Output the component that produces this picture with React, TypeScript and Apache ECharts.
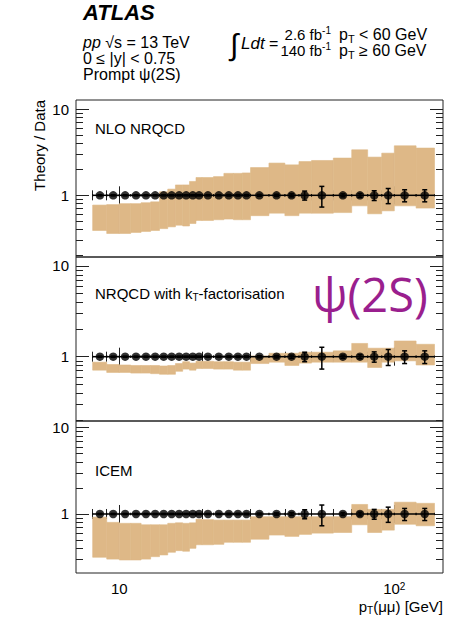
import React, { useEffect, useRef } from 'react';
import * as echarts from 'echarts';

// ---- data ----
const binEdges = [8, 9, 10, 11, 12, 13, 14, 15, 16, 17, 18, 19, 20, 22, 24, 26, 28, 30, 35, 40, 45, 50, 60, 70, 80, 90, 100, 120, 140];
const ptPoints = [8.5, 9.5, 10.5, 11.5, 12.5, 13.5, 14.5, 15.5, 16.5, 17.5, 18.5, 19.5, 21, 23, 25, 27, 29, 32.3, 37.3, 42.3, 47.2, 54.5, 65, 75, 84.5, 95, 109, 129];
const dataRatio = [1, 1, 1, 1, 1, 1, 1, 1, 1, 1, 1, 1, 1, 1, 1, 1, 1, 1, 1, 1, 1, 1, 1, 1, 1, 1, 1, 1];
const dataErr = [0.015, 0.015, 0.015, 0.015, 0.015, 0.015, 0.015, 0.015, 0.015, 0.015, 0.015, 0.015, 0.015, 0.015, 0.02, 0.02, 0.02, 0.025, 0.03, 0.04, 0.12, 0.27, 0.04, 0.05, 0.13, 0.2, 0.16, 0.16];

const nloUpper = [0.77, 0.78, 0.8, 0.8, 0.82, 0.84, 1.1, 1.18, 1.32, 1.32, 1.45, 1.61, 1.61, 1.65, 1.8, 1.8, 1.82, 2.1, 2.37, 2.26, 2.47, 2.54, 2.71, 3.38, 2.78, 3.09, 3.76, 3.54];
const nloLower = [0.39, 0.36, 0.36, 0.37, 0.38, 0.39, 0.41, 0.43, 0.45, 0.44, 0.47, 0.51, 0.51, 0.52, 0.53, 0.52, 0.52, 0.58, 0.62, 0.58, 0.62, 0.62, 0.63, 0.755, 0.61, 0.66, 0.755, 0.71];

const ktUpper = [0.87, 0.82, 0.81, 0.8, 0.8, 0.8, 0.79, 0.8, 0.84, 0.88, 0.85, 0.89, 0.89, 0.88, 0.88, 0.87, 0.87, 1.02, 1.09, 1.09, 1.12, 1.12, 1.16, 1.4, 1.24, 1.24, 1.49, 1.37];
const ktLower = [0.71, 0.67, 0.67, 0.66, 0.66, 0.65, 0.64, 0.64, 0.69, 0.73, 0.71, 0.74, 0.74, 0.73, 0.73, 0.71, 0.71, 0.84, 0.87, 0.8, 0.85, 0.87, 0.87, 0.87, 0.76, 0.87, 0.9, 0.81];

const icemUpper = [0.92, 0.8, 0.78, 0.78, 0.75, 0.75, 0.75, 0.78, 0.79, 0.78, 0.79, 0.87, 0.86, 0.85, 0.85, 0.85, 0.85, 0.93, 0.93, 0.93, 0.93, 0.93, 0.93, 1.29, 1.13, 1.13, 1.37, 1.33];
const icemLower = [0.315, 0.3, 0.293, 0.293, 0.3, 0.32, 0.335, 0.36, 0.376, 0.37, 0.4, 0.44, 0.44, 0.445, 0.47, 0.47, 0.47, 0.51, 0.57, 0.55, 0.58, 0.6, 0.61, 0.75, 0.61, 0.65, 0.76, 0.73];

const panelNames = ['NLO NRQCD', 'NRQCD with k{sub|T}-factorisation', 'ICEM'];
const yTickMajor = [1, 10];
const yTickMinor = [0.2, 0.3, 0.4, 0.5, 0.6, 0.7, 0.8, 0.9, 2, 3, 4, 5, 6, 7, 8, 9];
const xTickMajor = [10, 100];
const xTickMinor = [8, 9, 20, 30, 40, 50, 60, 70, 80, 90];

// ---- layout / style ----
const FONT = '"Liberation Sans", Arial, Helvetica, sans-serif';
const BAND = '#DEB887';
const FRAME = '#222';
const L = (v: number) => Math.log10(v);
const X_MIN = 0.8425;
const X_MAX = 2.177;
const GRID_LEFT = 76;
const GRID_RIGHT = 9;

const panels = [
  { top: 100, height: 157, yMin: -0.717, yMax: 1.108, upper: nloUpper, lower: nloLower, labelY: 128 },
  { top: 257, height: 164, yMin: -0.709, yMax: 1.099, upper: ktUpper, lower: ktLower, labelY: 293 },
  { top: 421, height: 152, yMin: -0.684, yMax: 1.078, upper: icemUpper, lower: icemLower, labelY: 470 },
];

const subStyle = (fs: number) => ({ fontFamily: FONT, fontSize: fs, lineHeight: 12, padding: [9, 0, 0, 0], fill: '#000' });
const supStyle = (fs: number) => ({ fontFamily: FONT, fontSize: fs, lineHeight: 12, padding: [0, 0, 9, 0], fill: '#000' });

function buildOption() {
  const grid: any[] = [];
  const xAxis: any[] = [];
  const yAxis: any[] = [];
  const series: any[] = [];
  const tickStyle = { color: FRAME, width: 1 };

  panels.forEach((p, i) => {
    grid.push({
      left: GRID_LEFT, right: GRID_RIGHT, top: p.top, height: p.height,
      show: true, borderColor: FRAME, borderWidth: 1, backgroundColor: 'transparent',
      containLabel: false, outerBoundsMode: 'none',
    });
    const isLast = i === panels.length - 1;
    const xBase = {
      gridIndex: i, type: 'value', min: X_MIN, max: X_MAX,
      axisLine: { show: false }, splitLine: { show: false },
    };
    xAxis.push({
      ...xBase, position: 'bottom',
      axisTick: { show: true, inside: true, length: 9, customValues: xTickMajor.map(L), lineStyle: tickStyle },
      axisLabel: isLast
        ? {
            show: true, customValues: xTickMajor.map(L), margin: 8,
            fontFamily: FONT, fontSize: 15, color: '#000',
            formatter: (v: number) => (v < 1.5 ? '10' : '10{sup|2}'),
            rich: { sup: { fontFamily: FONT, fontSize: 10, verticalAlign: 'top', lineHeight: 10 } },
          }
        : { show: false },
    });
    xAxis.push({
      ...xBase, position: 'bottom',
      axisTick: { show: true, inside: true, length: 5, customValues: xTickMinor.map(L), lineStyle: tickStyle },
      axisLabel: { show: false },
    });
    xAxis.push({
      ...xBase, position: 'top',
      axisTick: { show: true, inside: true, length: 9, customValues: xTickMajor.map(L), lineStyle: tickStyle },
      axisLabel: { show: false },
    });
    xAxis.push({
      ...xBase, position: 'top',
      axisTick: { show: true, inside: true, length: 5, customValues: xTickMinor.map(L), lineStyle: tickStyle },
      axisLabel: { show: false },
    });

    const yBase = {
      gridIndex: i, type: 'value', min: p.yMin, max: p.yMax,
      axisLine: { show: false }, splitLine: { show: false },
    };
    yAxis.push({
      ...yBase, position: 'left',
      axisTick: { show: true, inside: true, length: 13, customValues: yTickMajor.map(L), lineStyle: tickStyle },
      axisLabel: {
        show: true, customValues: yTickMajor.map(L), margin: 7,
        fontFamily: FONT, fontSize: 15, color: '#000',
        formatter: (v: number) => (Math.abs(v) < 1e-6 ? '1' : '10'),
      },
    });
    yAxis.push({
      ...yBase, position: 'left',
      axisTick: { show: true, inside: true, length: 7, customValues: yTickMinor.map(L), lineStyle: tickStyle },
      axisLabel: { show: false },
    });
    yAxis.push({
      ...yBase, position: 'right',
      axisTick: { show: true, inside: true, length: 13, customValues: yTickMajor.map(L), lineStyle: tickStyle },
      axisLabel: { show: false },
    });
    yAxis.push({
      ...yBase, position: 'right',
      axisTick: { show: true, inside: true, length: 7, customValues: yTickMinor.map(L), lineStyle: tickStyle },
      axisLabel: { show: false },
    });

    // theory band
    series.push({
      type: 'custom', coordinateSystem: 'cartesian2d',
      xAxisIndex: i * 4, yAxisIndex: i * 4, silent: true, z: 1,
      data: p.upper.map((u, b) => [L(binEdges[b]), L(binEdges[b + 1]), L(p.lower[b]), L(u)]),
      encode: { x: [0, 1], y: [2, 3] },
      renderItem: (_params: any, api: any) => {
        const a = api.coord([api.value(0), api.value(3)]);
        const b = api.coord([api.value(1), api.value(2)]);
        return {
          type: 'rect',
          shape: { x: a[0], y: a[1], width: b[0] - a[0], height: b[1] - a[1] },
          style: { fill: BAND, stroke: BAND, lineWidth: 0.6 },
        };
      },
    });

    // data error bars
    series.push({
      type: 'custom', coordinateSystem: 'cartesian2d',
      xAxisIndex: i * 4, yAxisIndex: i * 4, silent: true, z: 3,
      data: ptPoints.map((pt, b) => [
        L(binEdges[b]), L(binEdges[b + 1]), L(pt),
        L(dataRatio[b] - dataErr[b]), L(dataRatio[b] + dataErr[b]), L(dataRatio[b]),
      ]),
      encode: { x: [0, 1, 2], y: [3, 4, 5] },
      renderItem: (_params: any, api: any) => {
        const a = api.coord([api.value(0), api.value(5)]);
        const b = api.coord([api.value(1), api.value(5)]);
        const c = api.coord([api.value(2), api.value(3)]);
        const d = api.coord([api.value(2), api.value(4)]);
        const st = { stroke: '#000', lineWidth: 1.5 };
        const cap = 2.5;
        const endCap = 1.2;
        const thin = { stroke: '#000', lineWidth: 0.8 };
        return {
          type: 'group',
          children: [
            { type: 'line', shape: { x1: a[0], y1: a[1], x2: b[0], y2: b[1] }, style: st },
            { type: 'line', shape: { x1: a[0], y1: a[1] - endCap, x2: a[0], y2: a[1] + endCap }, style: thin },
            { type: 'line', shape: { x1: b[0], y1: b[1] - endCap, x2: b[0], y2: b[1] + endCap }, style: thin },
            { type: 'line', shape: { x1: c[0], y1: c[1], x2: d[0], y2: d[1] }, style: st },
            { type: 'line', shape: { x1: c[0] - cap, y1: c[1], x2: c[0] + cap, y2: c[1] }, style: st },
            { type: 'line', shape: { x1: d[0] - cap, y1: d[1], x2: d[0] + cap, y2: d[1] }, style: st },
          ],
        };
      },
    });

    // data points
    series.push({
      type: 'scatter', xAxisIndex: i * 4, yAxisIndex: i * 4, silent: true, z: 4,
      symbol: 'circle', symbolSize: 8.5,
      itemStyle: { color: '#000' },
      data: ptPoints.map((pt, b) => [L(pt), L(dataRatio[b])]),
    });
  });

  const txt = (x: number, y: number, text: string, extra: any = {}) => ({
    type: 'text', x, y, silent: true,
    style: {
      text, fill: '#000', fontFamily: FONT, fontSize: 16, lineHeight: 16,
      textAlign: 'left', align: 'left', textVerticalAlign: 'middle', verticalAlign: 'middle',
      ...extra,
    },
  });

  const HF = 16;
  const headRich = {
    i: { fontFamily: FONT, fontSize: HF, fontStyle: 'italic', lineHeight: 16, fill: '#000' },
    n: { fontFamily: FONT, fontSize: HF, lineHeight: 16, fill: '#000' },
  };
  const rightRich = {
    sub: subStyle(11),
    sup: supStyle(10),
    i: { fontFamily: FONT, fontSize: 17, fontStyle: 'italic', lineHeight: 16, fill: '#000' },
    n: { fontFamily: FONT, fontSize: 16, lineHeight: 16, fill: '#000' },
    f: { fontFamily: FONT, fontSize: 15, lineHeight: 16, fill: '#000' },
  };

  const graphic: any[] = [
    txt(83, 12, 'ATLAS', { fontSize: 22, fontWeight: 'bold', fontStyle: 'italic', lineHeight: 22 }),
    txt(83, 58, '{i|pp} {n|√s = 13 TeV}\n{n|0 ≤ |y| < 0.75}\n{n|Prompt ψ(2S)}', { rich: headRich, fontSize: HF }),
    txt(230, 44, '∫', { fontSize: 30, lineHeight: 26 }),
    txt(241, 43, '{i|Ldt} {n|=}', { rich: rightRich }),
    txt(331, 42.5, '{f|2.6 fb}{sup|-1}\n{f|140 fb}{sup|-1}', { rich: rightRich, fontSize: 15, textAlign: 'right', align: 'right' }),
    txt(339, 42.5, '{n|p}{sub|T}{n| < 60 GeV}\n{n|p}{sub|T}{n| ≥ 60 GeV}', { rich: rightRich }),
    txt(312, 294, 'ψ(2S)', { fontFamily: '"Open Sans", "Noto Sans", sans-serif', fontSize: 47, lineHeight: 50, fill: '#9A1F8E' }),
    {
      type: 'text', x: 39, y: 100, rotation: Math.PI / 2, silent: true,
      style: {
        text: 'Theory / Data', fill: '#000', fontFamily: FONT, fontSize: 15,
        textAlign: 'right', align: 'right', textVerticalAlign: 'middle', verticalAlign: 'middle',
      },
    },
    txt(443, 606, '{n|p}{sub|T}{n|(μμ) [GeV]}', {
      rich: {
        n: { fontFamily: FONT, fontSize: 15, lineHeight: 17, fill: '#000' },
        sub: subStyle(10),
      },
      textAlign: 'right', align: 'right',
    }),
  ];
  panels.forEach((p, i) => {
    graphic.push(txt(95, p.labelY, '{n|' + panelNames[i].replace('{sub|T}', '}{sub|T}{n|') + '}', {
      rich: {
        n: { fontFamily: FONT, fontSize: 15, lineHeight: 17, fill: '#000' },
        sub: subStyle(10),
      },
    }));
  });

  return {
    animation: false,
    backgroundColor: '#fff',
    grid, xAxis, yAxis, series, graphic,
  };
}

export default function App() {
  const ref = useRef<HTMLDivElement>(null);
  useEffect(() => {
    if (!ref.current) return;
    const chart = echarts.init(ref.current, null, { renderer: 'svg' });
    chart.setOption(buildOption() as any);
    return () => chart.dispose();
  }, []);
  return (
    <div
      ref={ref}
      style={{ position: 'fixed', left: 0, top: 0, width: 452, height: 621, background: '#fff' }}
    />
  );
}
